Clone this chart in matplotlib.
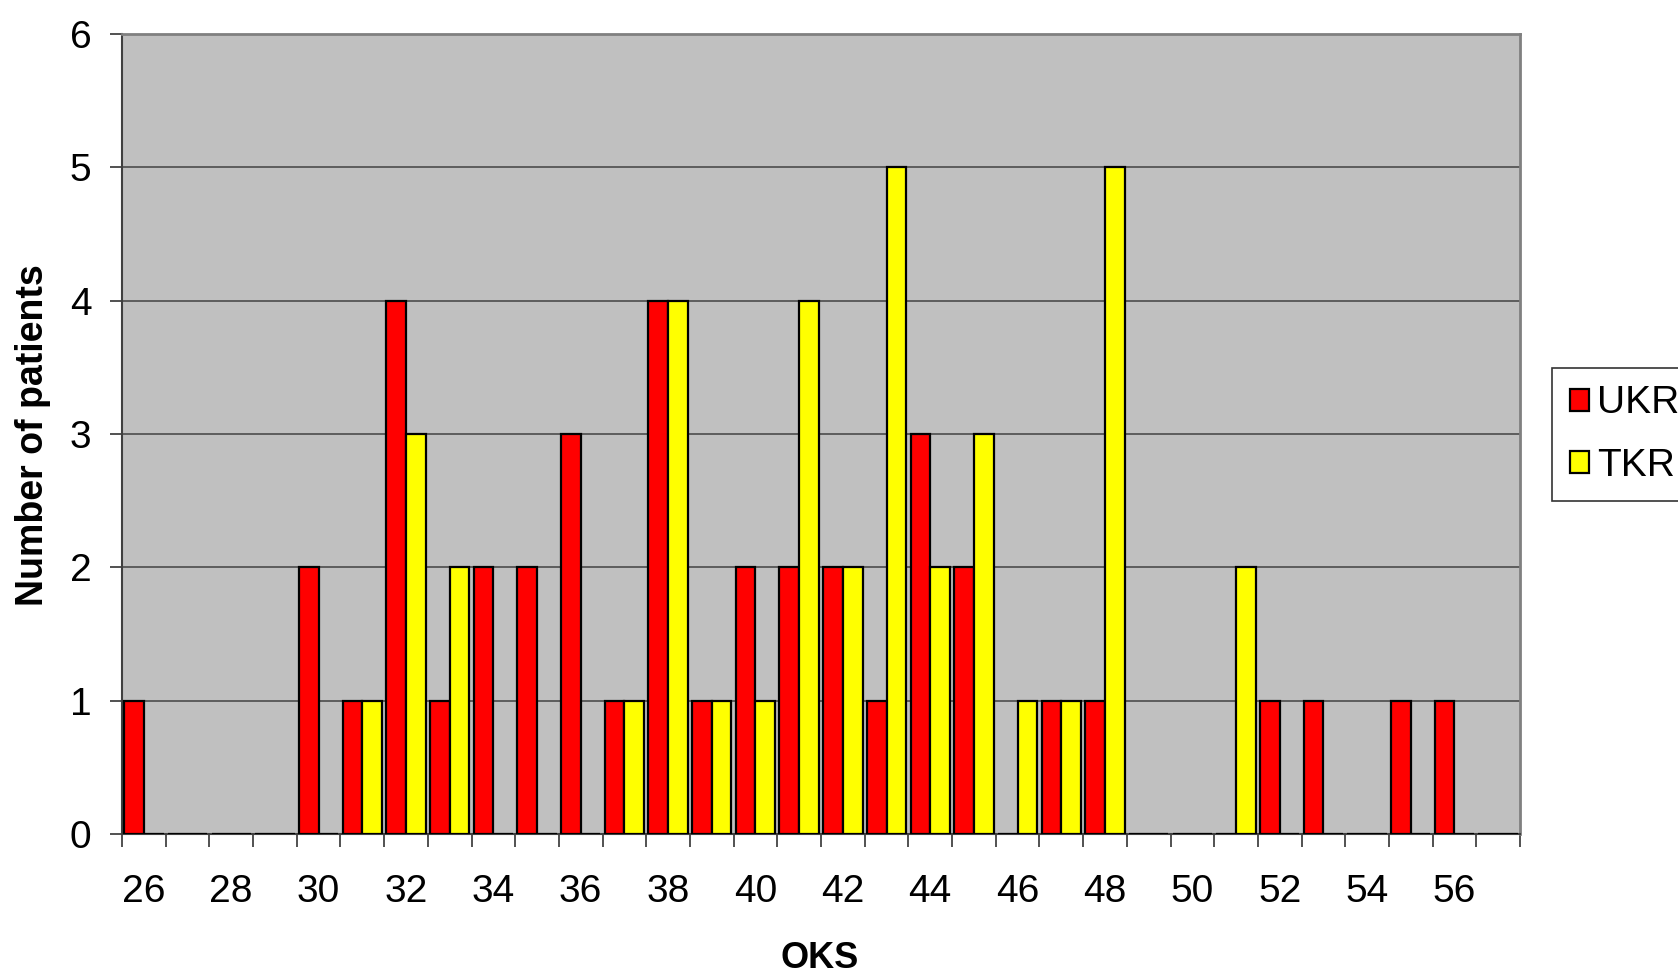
import matplotlib
matplotlib.use("Agg")
import matplotlib.pyplot as plt
import numpy as np
from matplotlib.patches import Patch

plt.rcParams['font.family'] = ['Liberation Sans', 'DejaVu Sans']

oks = list(range(26, 58))
ukr = [1, 0, 0, 0, 2, 1, 4, 1, 2, 2, 3, 1, 4, 1, 2, 2, 2, 1, 3, 2, 0, 1, 1, 0, 0, 0, 1, 1, 0, 1, 1, 0]
tkr = [0, 0, 0, 0, 0, 1, 3, 2, 0, 0, 0, 1, 4, 1, 1, 4, 2, 5, 2, 3, 1, 1, 5, 0, 0, 2, 0, 0, 0, 0, 0, 0]
tick_labels = [str(v) for v in range(26, 57, 2)]

W, H = 1678, 977
fig = plt.figure(figsize=(W / 100, H / 100), dpi=100)
ax = fig.add_axes([122 / W, (H - 834) / H, (1520 - 122) / W, (834 - 34) / H])
ax.set_facecolor('#C0C0C0')

x = np.arange(len(oks))
bw = 0.45
ax.bar(x - bw / 2, ukr, width=bw, color='#FF0000', edgecolor='black', linewidth=1.6, zorder=3)
ax.bar(x + bw / 2, tkr, width=bw, color='#FFFF00', edgecolor='black', linewidth=1.6, zorder=3)

ax.set_xlim(-0.5, len(oks) - 0.5)
ax.set_ylim(0, 6)
ax.set_yticks(range(0, 7))
ax.yaxis.grid(True, color='#555555', linewidth=1.3, zorder=1)

# category boundary ticks
ax.set_xticks(np.arange(-0.5, len(oks), 1.0))
ax.set_xticklabels([])
ax.tick_params(axis='x', which='major', direction='out', length=9, width=1.2, color='#333333')
ax.set_xticks([oks.index(int(t)) for t in tick_labels], minor=True)
ax.set_xticklabels(tick_labels, minor=True)
ax.tick_params(axis='x', which='minor', length=0, pad=29, labelsize=28)
ax.tick_params(axis='y', direction='out', length=9, width=1.2, color='#333333', pad=13, labelsize=28)

for s in ['left', 'bottom']:
    ax.spines[s].set_color('#404040')
    ax.spines[s].set_linewidth(1.5)
for s in ['top', 'right']:
    ax.spines[s].set_color('#808080')
    ax.spines[s].set_linewidth(2)

fig.text(33 / W, 1 - 435 / H, 'Number of patients', rotation=90, ha='center', va='center',
         fontsize=27, fontweight='bold')
fig.text(820 / W, 1 - 958 / H, 'OKS', ha='center', va='center', fontsize=26, fontweight='bold')

handles = [Patch(facecolor='#FF0000', edgecolor='black', linewidth=1.6, label='UKR'),
           Patch(facecolor='#FFFF00', edgecolor='black', linewidth=1.6, label='TKR')]
leg = fig.legend(handles=handles, loc='upper left', bbox_to_anchor=(1552 / W, 1 - 368 / H),
                 fontsize=28, frameon=True, fancybox=False, handlelength=0.5, handleheight=0.5,
                 handletextpad=0.2, borderpad=0.45, labelspacing=0.68, borderaxespad=0)
leg.get_frame().set_edgecolor('black')
leg.get_frame().set_linewidth(1.2)

fig.savefig('out.png', dpi=100)
